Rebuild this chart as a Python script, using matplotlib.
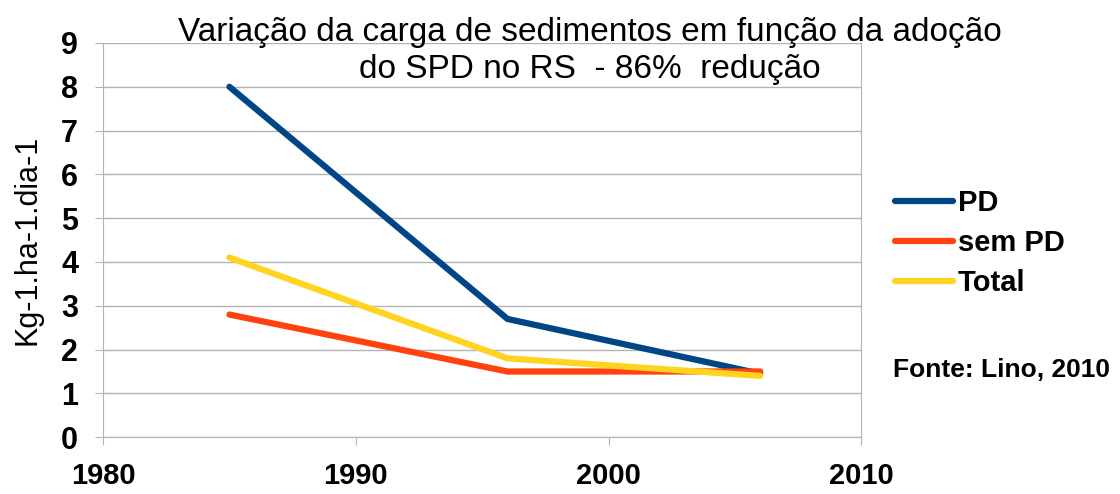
import matplotlib
matplotlib.use('Agg')
import matplotlib.pyplot as plt

plt.rcParams['font.family'] = ['Liberation Sans', 'DejaVu Sans']

anos = [1985, 1996, 2006]
pd_vals = [8.0, 2.7, 1.45]
sem_pd = [2.8, 1.5, 1.5]
total = [4.1, 1.8, 1.4]
series = ['PD', 'sem PD', 'Total']
cores = ['#004586', '#FF420E', '#FFD320']

fig = plt.figure(figsize=(11.2, 4.94), dpi=100)
ax = fig.add_axes([0.092, 0.115, 0.677, 0.798])

for vals, nome, cor in zip([pd_vals, sem_pd, total], series, cores):
    ax.plot(anos, vals, color=cor, lw=4.5, label=nome, solid_capstyle='round', solid_joinstyle='miter')

ax.set_xlim(1980, 2010)
ax.set_ylim(0, 9)
ax.set_xticks([1980, 1990, 2000, 2010])
ax.set_yticks(range(10))
ax.grid(axis='y', color='#b3b3b3', lw=1)
ax.set_axisbelow(True)
for s in ['left', 'right', 'bottom']:
    ax.spines[s].set_color('#b3b3b3')
ax.spines['top'].set_visible(False)
ax.tick_params(axis='x', direction='out', length=6, color='#b3b3b3', pad=12, labelsize=21)
ax.tick_params(axis='y', length=6, color='#b3b3b3', labelsize=22, pad=12)
for t in ax.get_xticklabels() + ax.get_yticklabels():
    t.set_fontweight('bold')

ax.set_ylabel('Kg-1.ha-1.dia-1', fontsize=22)
ax.yaxis.set_label_coords(-0.080, 0.5)

fig.text(0.527, 0.935, 'Variação da carga de sedimentos em função da adoção',
         ha='center', va='center', fontsize=24)
fig.text(0.527, 0.860, 'do SPD no RS  - 86%  redução', ha='center', va='center', fontsize=24)

leg = fig.legend(loc='center left', bbox_to_anchor=(0.799, 0.508), frameon=False,
                 prop={'size': 21, 'weight': 'bold'}, handlelength=2.0, handletextpad=0.15,
                 labelspacing=0.4, borderpad=0, borderaxespad=0)

fig.text(0.797, 0.251, 'Fonte: Lino, 2010', fontsize=19, fontweight='bold', va='center')

fig.savefig('out.png', dpi=100)
